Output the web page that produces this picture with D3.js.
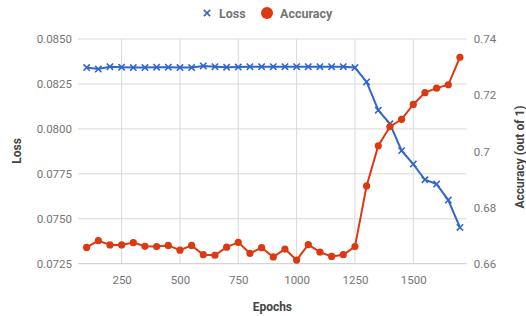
<!DOCTYPE html>
<html><head><meta charset="utf-8">
<script src="https://cdn.jsdelivr.net/npm/d3@7"></script>
<style>body{margin:0;background:#fff;}svg{display:block;font-family:Roboto,Arial,sans-serif;}</style>
</head><body><svg id="c" width="526" height="316"></svg>
<script>
const epochs = [100,150,200,250,300,350,400,450,500,550,600,650,700,750,800,850,900,950,1000,1050,1100,1150,1200,1250,1300,1350,1400,1450,1500,1550,1600,1650,1700];
const loss = [0.08341,0.08333,0.08346,0.08343,0.08341,0.08341,0.08343,0.08343,0.08341,0.08341,0.0835,0.08346,0.08343,0.08344,0.08346,0.08346,0.08346,0.08346,0.08346,0.08346,0.08346,0.08346,0.08346,0.08341,0.08261,0.08104,0.08028,0.07879,0.07804,0.07717,0.07693,0.07604,0.07452];
const accuracy = [0.6658,0.6682,0.6667,0.6667,0.6675,0.6662,0.6661,0.6665,0.6648,0.6665,0.6632,0.6630,0.6659,0.6676,0.6637,0.6657,0.6624,0.6652,0.6613,0.6668,0.6641,0.6626,0.6632,0.6661,0.6877,0.7020,0.7088,0.7114,0.7167,0.7209,0.7225,0.7237,0.7335];
const xTicks = [250,500,750,1000,1250,1500];
const lossTicks = [0.0725,0.0750,0.0775,0.0800,0.0825,0.0850];
const accTicks = [0.66,0.68,0.70,0.72,0.74];
const accLabels = ["0.66","0.68","0.7","0.72","0.74"];

const svg = d3.select("#c");
const L = 78, R = 466.7, T = 39, B = 263.7;
const x = d3.scaleLinear().domain([63,1729]).range([L,R]);
const yL = d3.scaleLinear().domain([0.0725,0.0850]).range([B,T]);
const yR = d3.scaleLinear().domain([0.66,0.74]).range([B,T]);
const blue = "#3366cc", red = "#dc3912";

// gridlines
svg.append("g").selectAll("line").data(xTicks).join("line")
  .attr("x1",d=>x(d)).attr("x2",d=>x(d)).attr("y1",T).attr("y2",B)
  .attr("stroke","#d9d9d9").attr("stroke-width",1);
svg.append("g").selectAll("line").data(lossTicks.slice(1)).join("line")
  .attr("x1",L).attr("x2",R).attr("y1",d=>yL(d)).attr("y2",d=>yL(d))
  .attr("stroke","#d9d9d9").attr("stroke-width",1);
svg.append("line").attr("x1",L).attr("x2",R).attr("y1",B).attr("y2",B).attr("stroke","#ccc").attr("stroke-width",1);

// axes (labels only)
const gx = svg.append("g").attr("transform",`translate(0,${B})`)
  .call(d3.axisBottom(x).tickValues(xTicks).tickSize(0).tickPadding(12).tickFormat(d3.format("d")));
const gl = svg.append("g").attr("transform",`translate(${L},0)`)
  .call(d3.axisLeft(yL).tickValues(lossTicks).tickSize(0).tickPadding(6).tickFormat(d3.format(".4f")));
const gr = svg.append("g").attr("transform",`translate(${R},0)`)
  .call(d3.axisRight(yR).tickValues(accTicks).tickSize(0).tickPadding(7).tickFormat((d,i)=>accLabels[i]));
[gx,gl,gr].forEach(g=>{g.select(".domain").remove();
  g.selectAll("text").attr("fill","#757575").style("font-size","11.5px").style("font-family","Roboto, Arial, sans-serif");});

// lines
const lineL = d3.line().x((d,i)=>x(epochs[i])).y(d=>yL(d));
const lineR = d3.line().x((d,i)=>x(epochs[i])).y(d=>yR(d));
svg.append("path").attr("d",lineL(loss)).attr("fill","none").attr("stroke",blue).attr("stroke-width",2);
svg.append("path").attr("d",lineR(accuracy)).attr("fill","none").attr("stroke",red).attr("stroke-width",2);

// markers
const cross = d3.symbol().type(d3.symbolX).size(28);
svg.append("g").selectAll("path").data(loss).join("path")
  .attr("d",cross).attr("transform",(d,i)=>`translate(${x(epochs[i])},${yL(d)})`)
  .attr("fill","none").attr("stroke",blue).attr("stroke-width",1.6);
svg.append("g").selectAll("circle").data(accuracy).join("circle")
  .attr("cx",(d,i)=>x(epochs[i])).attr("cy",d=>yR(d)).attr("r",3.6).attr("fill",red);

// titles
const tstyle = s=>s.attr("fill","#444").style("font-size","12px").style("font-weight","bold");
tstyle(svg.append("text").attr("x",(L+R)/2).attr("y",311).attr("text-anchor","middle").text("Epochs"));
tstyle(svg.append("text").attr("transform","translate(21,151) rotate(-90)").attr("text-anchor","middle").text("Loss"));
tstyle(svg.append("text").attr("transform","translate(524,157) rotate(-90)").attr("text-anchor","middle").text("Accuracy (out of 1)"));

// legend
svg.append("path").attr("d",cross).attr("transform","translate(207,13)").attr("fill","none").attr("stroke",blue).attr("stroke-width",1.6);
svg.append("text").attr("x",219).attr("y",17.5).attr("fill","#757575").style("font-size","12.5px").style("font-weight","bold").text("Loss");
svg.append("circle").attr("cx",267).attr("cy",13).attr("r",6).attr("fill",red);
svg.append("text").attr("x",280).attr("y",17.5).attr("fill","#757575").style("font-size","12.5px").style("font-weight","bold").text("Accuracy");
</script></body></html>
